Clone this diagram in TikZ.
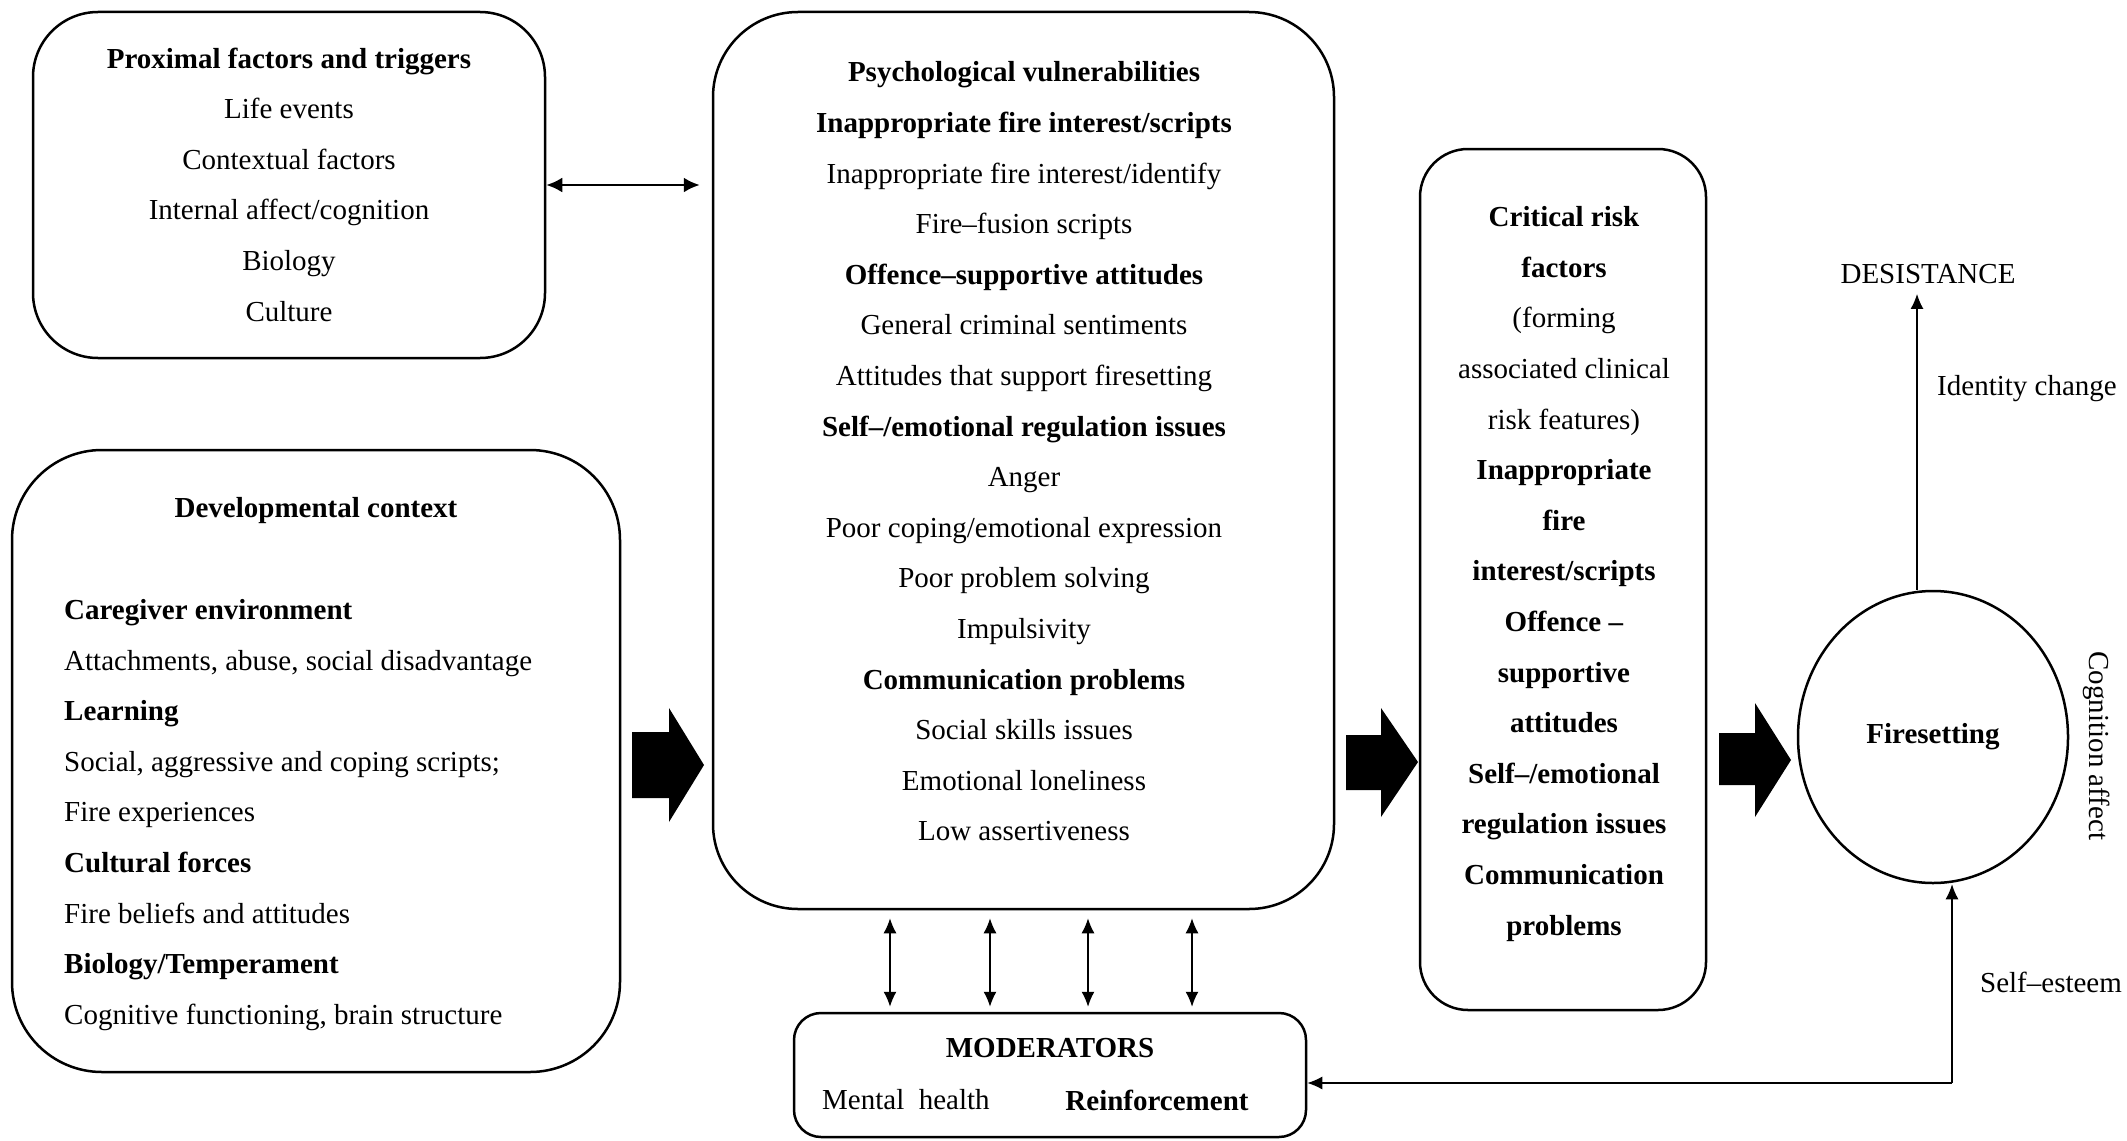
\documentclass[tikz,border=0pt]{standalone}
\usepackage{fontspec}
\setmainfont{Liberation Serif}
\usetikzlibrary{arrows.meta,shapes.geometric}
\begin{document}
\begin{tikzpicture}[x=1pt,y=-1pt,
  box/.style={draw, line width=2.5pt, rounded corners=#1, inner sep=0pt},
  txt/.style={inner sep=0pt, align=center, font=\fontsize{29}{50.6}\selectfont},
  txtl/.style={inner sep=0pt, align=left, font=\fontsize{29}{50.6}\selectfont},
  thinarrow/.style={line width=1.4pt, -{Latex[length=15pt,width=13pt]}},
  dblarrow/.style={line width=1.4pt, {Latex[length=15pt,width=13pt]}-{Latex[length=15pt,width=13pt]}},
  blockarrow/.style={fill=black, draw=none}]
\useasboundingbox (0,0) rectangle (2127,1140);

% boxes
\node[box=65pt, minimum width=512pt, minimum height=346pt] (prox) at (289,185) {};
\node[box=85pt, minimum width=621pt, minimum height=897pt] (psych) at (1023.5,460.5) {};
\node[box=90pt, minimum width=608pt, minimum height=622pt] (dev) at (316,761) {};
\node[box=48pt, minimum width=286pt, minimum height=861pt] (crit) at (1563,579.5) {};
\node[box=27pt, minimum width=512pt, minimum height=124pt] (mod) at (1050,1075) {};
\node[draw, ellipse, line width=2.5pt, minimum width=270pt, minimum height=292pt, inner sep=0pt] (fire) at (1933,737) {};

% texts
\node[txt] (proxt) at (289,184.5) {\textbf{Proximal factors and triggers}\\Life events\\Contextual factors\\Internal affect/cognition\\Biology\\Culture};
\node[txt] (psycht) at (1024,451.5) {\textbf{Psychological vulnerabilities}\\
\textbf{Inappropriate fire interest/scripts}\\
Inappropriate fire interest/identify\\
Fire–fusion scripts\\
\textbf{Offence–supportive attitudes}\\
General criminal sentiments\\
Attitudes that support firesetting\\
\textbf{Self–/emotional regulation issues}\\
Anger\\
Poor coping/emotional expression\\
Poor problem solving\\
Impulsivity\\
\textbf{Communication problems}\\
Social skills issues\\
Emotional loneliness\\
Low assertiveness};
\node[txt] (devtitle) at (316,511) {\textbf{Developmental context}};
\node[txtl, anchor=west] (devt) at (64,815) {\textbf{Caregiver environment}\\
Attachments, abuse, social disadvantage\\
\textbf{Learning}\\
Social, aggressive and coping scripts;\\
Fire experiences\\
\textbf{Cultural forces}\\
Fire beliefs and attitudes\\
\textbf{Biology/Temperament}\\
Cognitive functioning, brain structure};
\node[txt] (critt) at (1564,574) {\textbf{Critical risk}\\
\textbf{factors}\\
(forming\\
associated clinical\\
risk features)\\
\textbf{Inappropriate}\\
\textbf{fire}\\
\textbf{interest/scripts}\\
\textbf{Offence –}\\
\textbf{supportive}\\
\textbf{attitudes}\\
\textbf{Self–/emotional}\\
\textbf{regulation issues}\\
\textbf{Communication}\\
\textbf{problems}};
\node[txt] (modt) at (1050,1048) {\textbf{MODERATORS}};
\node[txt, anchor=west] (mh) at (822,1100) {Mental\ \ health};
\node[txt] (reinf) at (1157,1100) {\textbf{Reinforcement}};
\node[txt] (firet) at (1933,737) {\textbf{Firesetting}};
\node[txt] (desist) at (1928,274) {DESISTANCE};
\node[txt] (ident) at (2027,389) {Identity change};
\node[txt] (selfe) at (2051,982) {Self–esteem};
\node[txt, rotate=-90] (cogn) at (2097,746) {Cognition affect};

% connectors
\draw[line width=2.5pt, {Latex[length=16pt,width=15pt]}-{Latex[length=16pt,width=15pt]}]
  (prox.east) -- ([xshift=-12pt]psych.west |- prox.east);
\foreach \n/\x in {a/890,b/990,c/1088,d/1192}{
  \coordinate (v\n) at (\x,0);
  \draw[dblarrow] ([yshift=-8pt]psych.south -| v\n) -- ([yshift=5pt]mod.north -| v\n);
}
\coordinate (fb) at (1952,1083);
\draw[thinarrow] (fb) -- (mod.east |- fb);
\draw[thinarrow] (fb) -- (fb |- fire.south);
\coordinate (dz) at (1917,0);
\draw[thinarrow] (fire.north -| dz) -- ([yshift=-10pt]desist.south -| dz);

% block arrows
\fill[blockarrow] (632,732) -- (669,732) -- (669,708) -- (704,765) -- (669,822) -- (669,798) -- (632,798) -- cycle;
\fill[blockarrow] (1346,735) -- (1381,735) -- (1381,708) -- (1418,762) -- (1381,817) -- (1381,790) -- (1346,790) -- cycle;
\fill[blockarrow] (1719,733) -- (1755,733) -- (1755,703) -- (1791,760) -- (1755,817) -- (1755,785) -- (1719,785) -- cycle;
\end{tikzpicture}
\end{document}
